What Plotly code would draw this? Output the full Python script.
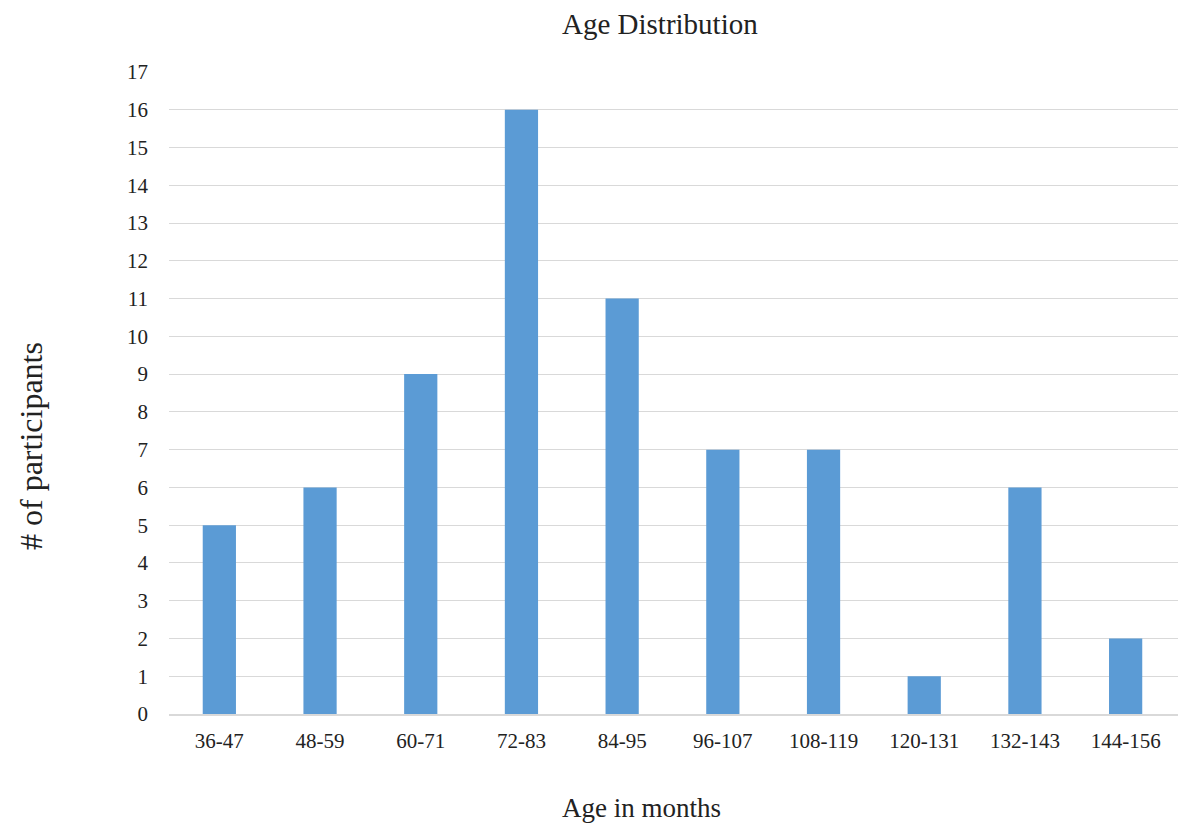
import plotly.graph_objects as go

categories = ["36-47", "48-59", "60-71", "72-83", "84-95", "96-107", "108-119", "120-131", "132-143", "144-156"]
participants = [5, 6, 9, 16, 11, 7, 7, 1, 6, 2]
y_ticks = list(range(0, 18))

W, H = 1178, 823
L, T, B = 169, 72, 714


def px_x(x):
    return (x - L) / (W - L)


def px_y(y):
    return (B - y) / (B - T)


fig = go.Figure(go.Bar(x=categories, y=participants, marker_color="#5B9BD5",
                       marker_line_width=0))

font = "Liberation Serif, Times New Roman, serif"
fig.update_layout(
    width=W, height=H, autosize=False,
    paper_bgcolor="white", plot_bgcolor="white",
    margin=dict(l=L, r=0, t=T, b=H - B, pad=0),
    bargap=0.67,
    showlegend=False,
    font=dict(family=font, color="#222222"),
    xaxis=dict(automargin=False, showgrid=False, showline=True, linecolor="#d9d9d9",
               linewidth=1.5, ticks="", ticklabelstandoff=7,
               range=[-0.5, 9.52],
               tickfont=dict(size=21, family=font, color="#222222")),
    yaxis=dict(automargin=False, range=[0, 17], tickvals=y_ticks,
               showgrid=True, gridcolor="#d9d9d9", gridwidth=1.2, zeroline=False,
               ticks="", ticklabelstandoff=20,
               tickfont=dict(size=21, family=font, color="#222222")),
    annotations=[
        dict(text="Age Distribution", x=px_x(660), y=px_y(24), xref="paper", yref="paper",
             showarrow=False, font=dict(size=29, family=font, color="#222222"),
             xanchor="center", yanchor="middle"),
        dict(text="Age in months", x=px_x(641), y=px_y(808), xref="paper", yref="paper",
             showarrow=False, font=dict(size=27, family=font, color="#222222"),
             xanchor="center", yanchor="middle"),
        dict(text="# of participants", x=px_x(31), y=px_y(446), xref="paper", yref="paper",
             showarrow=False, textangle=-90, font=dict(size=32, family=font, color="#222222"),
             xanchor="center", yanchor="middle"),
    ],
)

fig.write_html("out.html", config={"displayModeBar": False},
               post_script="document.body.style.margin='0';document.body.style.overflow='hidden';")
